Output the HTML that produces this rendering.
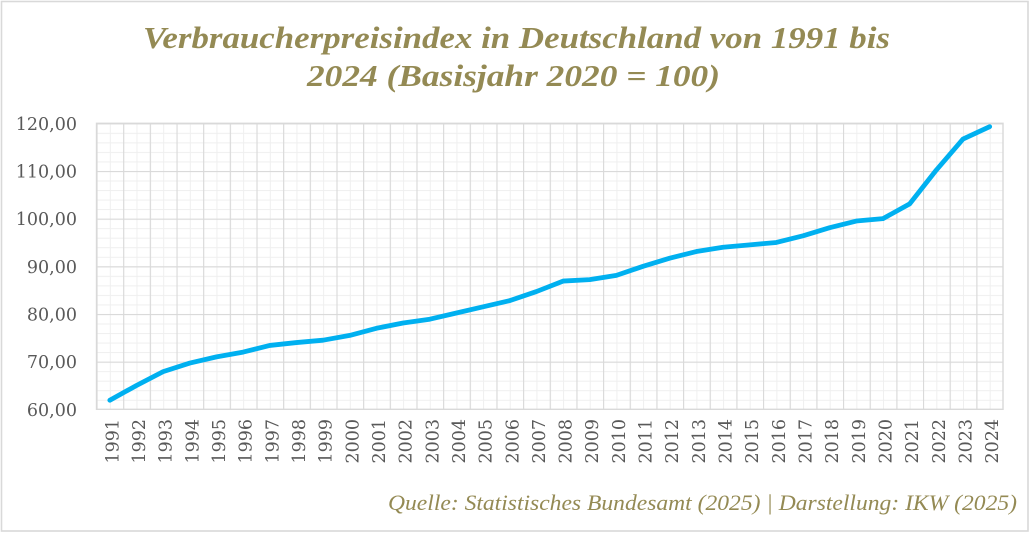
<!DOCTYPE html>
<html>
<head>
<meta charset="utf-8">
<style>
  html,body{margin:0;padding:0;background:#fff;}
  svg{display:block;}
</style>
</head>
<body>
<svg width="1030" height="533" viewBox="0 0 1030 533" xmlns="http://www.w3.org/2000/svg">
  <defs>
    <pattern id="minor" patternUnits="userSpaceOnUse" x="96.5" y="123.3" width="13.331" height="9.5333">
      <line x1="0.5" y1="0" x2="0.5" y2="9.5333" stroke="#efefef" stroke-width="1"/>
      <line x1="0" y1="0.5" x2="13.331" y2="0.5" stroke="#efefef" stroke-width="1"/>
    </pattern>
    <pattern id="major" patternUnits="userSpaceOnUse" x="96.5" y="123.3" width="26.662" height="47.667">
      <line x1="0.5" y1="0" x2="0.5" y2="47.667" stroke="#d9d9d9" stroke-width="1.2"/>
      <line x1="0" y1="0.5" x2="26.662" y2="0.5" stroke="#d9d9d9" stroke-width="1.2"/>
    </pattern>
  </defs>

  <rect x="0" y="0" width="1030" height="533" fill="#fff"/>
  <rect x="1.5" y="1.5" width="1026.5" height="529.5" fill="none" stroke="#d9d9d9" stroke-width="1.6"/>

  <!-- Title -->
  <g font-family="'Liberation Serif', serif" font-weight="bold" font-style="italic" font-size="31" fill="#948a54">
    <text x="143" y="48" textLength="747" lengthAdjust="spacingAndGlyphs">Verbraucherpreisindex in Deutschland von 1991 bis</text>
    <text x="307" y="86" textLength="413" lengthAdjust="spacingAndGlyphs">2024 (Basisjahr 2020 = 100)</text>
  </g>

  <!-- Grid -->
  <rect x="96.5" y="123.3" width="906.5" height="286" fill="url(#minor)"/>
  <rect x="96.5" y="123.3" width="906.5" height="286" fill="url(#major)"/>
  <rect x="96.5" y="123.3" width="906.5" height="286" fill="none" stroke="#d9d9d9" stroke-width="1.4"/>

  <!-- Y axis labels -->
  <g font-family="'DejaVu Serif', serif" font-size="17.5" fill="#595959" text-anchor="end">
    <text x="77" y="129.8">120,00</text>
    <text x="77" y="177.5">110,00</text>
    <text x="77" y="225.1">100,00</text>
    <text x="77" y="272.8">90,00</text>
    <text x="77" y="320.5">80,00</text>
    <text x="77" y="368.1">70,00</text>
    <text x="77" y="415.8">60,00</text>
  </g>

  <!-- X axis labels -->
  <g font-family="'DejaVu Serif', serif" font-size="17.5" fill="#595959" text-anchor="end">
    <text transform="translate(118.3,419) rotate(-90)">1991</text>
    <text transform="translate(145.0,419) rotate(-90)">1992</text>
    <text transform="translate(171.7,419) rotate(-90)">1993</text>
    <text transform="translate(198.3,419) rotate(-90)">1994</text>
    <text transform="translate(225.0,419) rotate(-90)">1995</text>
    <text transform="translate(251.6,419) rotate(-90)">1996</text>
    <text transform="translate(278.3,419) rotate(-90)">1997</text>
    <text transform="translate(305.0,419) rotate(-90)">1998</text>
    <text transform="translate(331.6,419) rotate(-90)">1999</text>
    <text transform="translate(358.3,419) rotate(-90)">2000</text>
    <text transform="translate(385.0,419) rotate(-90)">2001</text>
    <text transform="translate(411.6,419) rotate(-90)">2002</text>
    <text transform="translate(438.3,419) rotate(-90)">2003</text>
    <text transform="translate(464.9,419) rotate(-90)">2004</text>
    <text transform="translate(491.6,419) rotate(-90)">2005</text>
    <text transform="translate(518.3,419) rotate(-90)">2006</text>
    <text transform="translate(544.9,419) rotate(-90)">2007</text>
    <text transform="translate(571.6,419) rotate(-90)">2008</text>
    <text transform="translate(598.2,419) rotate(-90)">2009</text>
    <text transform="translate(624.9,419) rotate(-90)">2010</text>
    <text transform="translate(651.6,419) rotate(-90)">2011</text>
    <text transform="translate(678.2,419) rotate(-90)">2012</text>
    <text transform="translate(704.9,419) rotate(-90)">2013</text>
    <text transform="translate(731.5,419) rotate(-90)">2014</text>
    <text transform="translate(758.2,419) rotate(-90)">2015</text>
    <text transform="translate(784.9,419) rotate(-90)">2016</text>
    <text transform="translate(811.5,419) rotate(-90)">2017</text>
    <text transform="translate(838.2,419) rotate(-90)">2018</text>
    <text transform="translate(864.9,419) rotate(-90)">2019</text>
    <text transform="translate(891.5,419) rotate(-90)">2020</text>
    <text transform="translate(918.2,419) rotate(-90)">2021</text>
    <text transform="translate(944.8,419) rotate(-90)">2022</text>
    <text transform="translate(971.5,419) rotate(-90)">2023</text>
    <text transform="translate(998.2,419) rotate(-90)">2024</text>
  </g>

  <!-- Data line -->
  <polyline fill="none" stroke="#00b0f0" stroke-width="4.8" stroke-linejoin="round" stroke-linecap="round"
    points="109.83,400.24 136.49,385.47 163.16,371.64 189.82,363.06 216.48,356.87 243.14,352.1 269.80,345.43 296.46,342.57 323.12,340.18 349.79,335.42 376.45,328.27 403.11,323.02 429.77,319.21 456.43,313.01 483.09,306.82 509.75,300.62 536.42,291.56 563.08,281.08 589.74,279.65 616.40,275.36 643.06,266.3 669.72,258.2 696.38,251.52 723.04,247.23 749.71,244.85 776.37,242.47 803.03,235.79 829.69,227.69 856.35,221.02 883.01,218.63 909.67,203.86 936.34,170.01 963.00,139.03 989.66,126.64"/>

  <!-- Footer -->
  <text x="388" y="510" font-family="'Liberation Serif', serif" font-style="italic" font-size="22" fill="#948a54" textLength="629" lengthAdjust="spacingAndGlyphs">Quelle: Statistisches Bundesamt (2025) | Darstellung: IKW (2025)</text>
</svg>
</body>
</html>
